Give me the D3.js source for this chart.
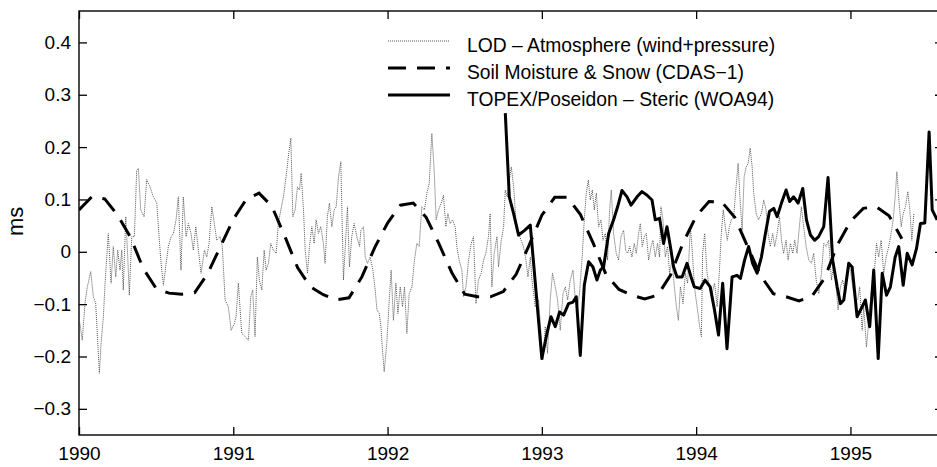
<!DOCTYPE html>
<html>
<head>
<meta charset="utf-8">
<script src="https://cdn.jsdelivr.net/npm/d3@7"></script>
<style>
  html, body { margin: 0; padding: 0; background: #fff; }
  svg { display: block; font-family: "Liberation Sans", Arial, Helvetica, sans-serif; }
</style>
</head>
<body>
<svg id="chart" width="937" height="467"></svg>
<script>
// ---------------------------------------------
// data (decimal year, ms)
// ---------------------------------------------
const yearTicks = [1990, 1991, 1992, 1993, 1994, 1995];
const msTicks = [-0.3, -0.2, -0.1, 0, 0.1, 0.2, 0.3, 0.4];

const legendLabels = [
  "LOD \u2013 Atmosphere (wind+pressure)",
  "Soil Moisture & Snow (CDAS\u22121)",
  "TOPEX/Poseidon \u2013 Steric (WOA94)"
];

// LOD minus atmosphere, roughly 5-10 day sampling
const lodSeries = [
  [1990.006,-0.137],[1990.021,-0.169],[1990.039,-0.098],[1990.054,-0.067],[1990.076,-0.038],[1990.093,-0.086],
  [1990.108,-0.098],[1990.132,-0.232],[1990.143,-0.175],[1990.158,-0.124],[1990.169,-0.060],[1990.190,0.035],
  [1990.208,-0.060],[1990.222,0.010],[1990.238,-0.048],[1990.251,0.003],[1990.266,-0.035],[1990.277,0.003],
  [1990.287,-0.073],[1990.303,0.067],[1990.316,-0.010],[1990.326,-0.083],[1990.342,0.029],[1990.359,0.029],
  [1990.374,0.156],[1990.385,0.159],[1990.400,0.080],[1990.422,0.067],[1990.439,0.138],[1990.460,0.124],
  [1990.482,0.105],[1990.504,0.093],[1990.519,0.029],[1990.532,-0.022],[1990.547,-0.064],[1990.562,-0.029],
  [1990.579,0.010],[1990.597,0.029],[1990.612,0.035],[1990.629,0.061],[1990.644,0.105],[1990.661,-0.035],
  [1990.676,0.105],[1990.694,0.029],[1990.709,0.054],[1990.726,0.035],[1990.741,0.003],[1990.757,0.048],
  [1990.774,0.003],[1990.791,-0.041],[1990.813,0.003],[1990.828,-0.010],[1990.843,0.016],[1990.861,0.086],
  [1990.877,0.054],[1990.893,0.022],[1990.914,0.029],[1990.929,0.010],[1990.947,-0.092],[1990.968,-0.105],
  [1990.986,-0.150],[1991.007,-0.137],[1991.018,-0.124],[1991.033,-0.060],[1991.055,-0.156],[1991.077,-0.162],
  [1991.098,-0.169],[1991.113,-0.086],[1991.126,-0.073],[1991.141,-0.162],[1991.156,-0.010],[1991.169,-0.054],
  [1991.185,-0.073],[1991.200,0.003],[1991.213,-0.035],[1991.228,-0.022],[1991.243,0.016],[1991.260,0.003],
  [1991.278,-0.003],[1991.292,0.054],[1991.308,0.080],[1991.325,0.105],[1991.342,0.143],[1991.357,0.182],
  [1991.373,0.217],[1991.386,0.067],[1991.401,0.080],[1991.416,0.124],[1991.429,0.118],[1991.440,0.150],
  [1991.455,0.080],[1991.466,0.003],[1991.481,-0.041],[1991.494,0.010],[1991.509,0.048],[1991.524,0.016],
  [1991.537,0.061],[1991.552,0.035],[1991.567,0.048],[1991.584,0.016],[1991.595,-0.022],[1991.610,0.067],
  [1991.623,0.093],[1991.639,0.048],[1991.654,0.080],[1991.667,0.086],[1991.682,0.143],[1991.697,0.172],
  [1991.714,-0.054],[1991.727,0.016],[1991.740,0.086],[1991.753,-0.029],[1991.768,0.029],[1991.783,0.054],
  [1991.801,0.029],[1991.818,0.010],[1991.827,0.041],[1991.844,0.048],[1991.855,-0.010],[1991.870,-0.022],
  [1991.887,-0.010],[1991.905,-0.035],[1991.920,-0.073],[1991.931,-0.111],[1991.946,-0.118],[1991.957,-0.143],
  [1991.967,-0.188],[1991.978,-0.229],[1991.995,-0.175],[1992.012,-0.086],[1992.023,-0.035],[1992.038,-0.131],
  [1992.054,-0.060],[1992.067,-0.118],[1992.082,-0.067],[1992.097,-0.105],[1992.110,-0.067],[1992.125,-0.156],
  [1992.140,-0.080],[1992.158,-0.067],[1992.174,-0.016],[1992.190,0.016],[1992.205,0.010],[1992.222,0.086],
  [1992.239,0.080],[1992.255,0.112],[1992.270,0.131],[1992.287,0.226],[1992.302,0.156],[1992.315,0.061],
  [1992.330,0.080],[1992.348,0.093],[1992.362,0.108],[1992.378,0.048],[1992.391,0.073],[1992.406,0.054],
  [1992.421,0.061],[1992.438,0.048],[1992.449,0.010],[1992.464,-0.016],[1992.482,-0.035],[1992.492,-0.086],
  [1992.508,-0.067],[1992.525,-0.016],[1992.542,0.016],[1992.557,0.029],[1992.573,-0.099],[1992.589,-0.054],
  [1992.607,-0.041],[1992.622,-0.016],[1992.637,-0.003],[1992.654,0.029],[1992.665,0.073],[1992.676,-0.067],
  [1992.691,-0.003],[1992.709,0.029],[1992.719,-0.029],[1992.737,0.022],[1992.752,0.048],[1992.763,0.118],
  [1992.776,0.105],[1992.789,0.137],[1992.802,0.162],[1992.817,0.124],[1992.832,0.061],[1992.849,0.035],
  [1992.866,0.022],[1992.881,0.010],[1992.897,-0.016],[1992.910,-0.048],[1992.925,-0.010],[1992.936,-0.054],
  [1992.957,-0.105],[1992.979,-0.092],[1993.007,-0.207],[1993.022,-0.143],[1993.037,-0.194],[1993.054,-0.092],
  [1993.069,-0.041],[1993.087,-0.067],[1993.102,-0.092],[1993.119,-0.150],[1993.137,-0.080],[1993.152,-0.067],
  [1993.167,-0.092],[1993.184,-0.054],[1993.202,-0.035],[1993.217,-0.092],[1993.231,-0.105],[1993.244,-0.080],
  [1993.260,-0.016],[1993.275,0.061],[1993.288,0.112],[1993.301,0.137],[1993.314,0.099],[1993.327,0.118],
  [1993.340,0.080],[1993.353,0.112],[1993.368,0.048],[1993.383,0.061],[1993.396,0.022],[1993.411,0.035],
  [1993.426,-0.016],[1993.439,0.080],[1993.450,0.118],[1993.465,0.035],[1993.482,-0.003],[1993.497,-0.016],
  [1993.513,0.029],[1993.530,0.041],[1993.543,0.003],[1993.556,-0.003],[1993.569,0.010],[1993.584,-0.010],
  [1993.599,0.016],[1993.612,-0.003],[1993.627,0.035],[1993.638,0.054],[1993.651,0.010],[1993.664,0.029],
  [1993.677,0.035],[1993.692,-0.016],[1993.708,0.010],[1993.720,0.022],[1993.735,-0.010],[1993.750,0.016],
  [1993.763,-0.010],[1993.772,0.086],[1993.785,0.061],[1993.800,-0.010],[1993.815,0.010],[1993.828,-0.041],
  [1993.844,-0.016],[1993.859,-0.067],[1993.872,-0.105],[1993.885,-0.131],[1993.898,-0.067],[1993.915,-0.099],
  [1993.930,-0.041],[1993.945,-0.060],[1993.963,0.048],[1993.976,-0.003],[1993.989,-0.067],[1994.006,-0.105],
  [1994.023,-0.143],[1994.034,-0.162],[1994.042,-0.003],[1994.055,0.035],[1994.071,-0.041],[1994.086,-0.067],
  [1994.103,-0.080],[1994.120,-0.060],[1994.136,-0.105],[1994.150,-0.041],[1994.163,0.035],[1994.176,0.080],
  [1994.189,0.048],[1994.202,0.022],[1994.215,0.048],[1994.228,0.061],[1994.243,0.067],[1994.259,0.124],
  [1994.272,0.169],[1994.285,0.099],[1994.298,0.041],[1994.311,0.143],[1994.324,0.162],[1994.337,0.169],
  [1994.350,0.198],[1994.363,0.162],[1994.373,0.112],[1994.389,0.073],[1994.405,0.061],[1994.423,0.073],
  [1994.438,0.099],[1994.453,0.080],[1994.466,0.035],[1994.481,0.010],[1994.496,0.035],[1994.509,0.010],
  [1994.525,0.035],[1994.540,0.067],[1994.553,0.022],[1994.567,-0.003],[1994.583,0.022],[1994.596,-0.016],
  [1994.611,0.016],[1994.626,-0.003],[1994.639,0.022],[1994.654,-0.003],[1994.669,0.048],[1994.682,0.086],
  [1994.697,0.048],[1994.713,0.010],[1994.730,-0.016],[1994.747,-0.022],[1994.762,-0.003],[1994.778,-0.054],
  [1994.795,-0.080],[1994.812,-0.041],[1994.827,0.016],[1994.842,0.010],[1994.859,0.022],[1994.877,-0.054],
  [1994.892,-0.022],[1994.907,-0.067],[1994.920,-0.111],[1994.935,-0.067],[1994.950,-0.054],[1994.968,-0.080],
  [1994.985,-0.022],[1995.000,-0.035],[1995.015,-0.067],[1995.028,-0.092],[1995.047,-0.092],[1995.060,-0.067],
  [1995.076,-0.150],[1995.086,-0.105],[1995.104,-0.182],[1995.119,-0.131],[1995.134,-0.080],[1995.151,-0.054],
  [1995.169,0.016],[1995.183,-0.010],[1995.199,0.022],[1995.216,-0.041],[1995.232,-0.010],[1995.248,0.010],
  [1995.264,0.035],[1995.277,0.061],[1995.290,0.105],[1995.301,0.153],[1995.314,0.099],[1995.329,0.048],
  [1995.342,0.073],[1995.357,0.086],[1995.372,0.115],[1995.385,0.080],[1995.398,0.022],[1995.411,0.073]
];

// soil moisture & snow, monthly from Jan 1990
const soilStart = 1990;
const soilMonthly = [
  0.080, 0.105, 0.101, 0.070, 0.028, -0.032, -0.070, -0.079, -0.081, -0.078, -0.042, 0.010,
  0.062, 0.100, 0.112, 0.087, 0.030, -0.030, -0.067, -0.082, -0.092, -0.088, -0.048, 0.008,
  0.055, 0.089, 0.093, 0.066, 0.015, -0.040, -0.081, -0.086, -0.086, -0.076, -0.043, 0.012,
  0.070, 0.104, 0.104, 0.071, 0.016, -0.044, -0.072, -0.083, -0.090, -0.083, -0.045, 0.018,
  0.068, 0.096, 0.095, 0.066, 0.010, -0.045, -0.080, -0.086, -0.094, -0.085, -0.050, 0.014,
  0.058, 0.083, 0.086, 0.069, 0.025
];

// TOPEX/Poseidon minus steric, ~10 day cycles
const topexSeries = [
  [1992.763,0.265],[1992.789,0.105],[1992.817,0.073],[1992.849,0.032],[1992.888,0.041],[1992.925,0.051],
  [1993.000,-0.204],[1993.033,-0.156],[1993.059,-0.124],[1993.087,-0.143],[1993.115,-0.115],[1993.141,-0.121],
  [1993.173,-0.099],[1993.202,-0.096],[1993.223,-0.086],[1993.249,-0.198],[1993.275,-0.064],[1993.303,-0.019],
  [1993.331,-0.029],[1993.357,-0.054],[1993.379,-0.035],[1993.400,-0.029],[1993.433,0.035],[1993.465,0.061],
  [1993.491,0.086],[1993.519,0.117],[1993.552,0.105],[1993.578,0.089],[1993.617,0.105],[1993.649,0.115],
  [1993.682,0.108],[1993.714,0.099],[1993.735,0.061],[1993.763,0.064],[1993.789,0.016],[1993.811,0.048],
  [1993.833,0.010],[1993.854,-0.029],[1993.876,-0.048],[1993.909,-0.048],[1993.941,-0.022],[1993.967,-0.048],
  [1993.988,-0.067],[1994.026,-0.070],[1994.058,-0.054],[1994.091,-0.067],[1994.119,-0.111],[1994.145,-0.159],
  [1994.172,-0.060],[1994.200,-0.185],[1994.233,-0.048],[1994.265,-0.045],[1994.287,-0.051],[1994.314,-0.016],
  [1994.340,0.010],[1994.366,-0.022],[1994.395,-0.041],[1994.423,-0.010],[1994.449,0.035],[1994.475,0.077],
  [1994.503,0.083],[1994.525,0.067],[1994.553,0.093],[1994.583,0.118],[1994.606,0.096],[1994.632,0.105],
  [1994.661,0.093],[1994.691,0.121],[1994.715,0.061],[1994.741,0.032],[1994.768,0.022],[1994.794,0.029],
  [1994.827,0.048],[1994.855,0.142],[1994.885,-0.016],[1994.914,-0.067],[1994.935,-0.099],[1994.957,-0.092],
  [1994.989,-0.022],[1995.011,-0.029],[1995.043,-0.124],[1995.076,-0.105],[1995.097,-0.092],[1995.125,-0.143],
  [1995.151,-0.035],[1995.180,-0.204],[1995.206,-0.041],[1995.234,-0.083],[1995.259,-0.067],[1995.290,-0.010],
  [1995.313,0.010],[1995.342,-0.064],[1995.368,-0.003],[1995.400,-0.025],[1995.428,0.006],[1995.454,0.054],
  [1995.482,0.055],[1995.510,0.229],[1995.530,0.080],[1995.562,0.061]
];

// ---------------------------------------------
// layout
// ---------------------------------------------
const svg = d3.select("#chart");
const plot = { left: 79, right: 943, top: 11, bottom: 435 };

const x = d3.scaleLinear().domain([1990, 1995.6]).range([plot.left, plot.right]);
const y = d3.scaleLinear().domain([-0.35, 0.46]).range([plot.bottom, plot.top]);

svg.append("defs").append("clipPath").attr("id", "plotClip")
  .append("rect")
    .attr("x", plot.left).attr("y", plot.top)
    .attr("width", plot.right - plot.left).attr("height", plot.bottom - plot.top);

const line = d3.line().x(d => x(d[0])).y(d => y(d[1]));
const soilSeries = soilMonthly.map((v, i) => [soilStart + i / 12, v]);

const series = svg.append("g").attr("clip-path", "url(#plotClip)");

series.append("path")
  .datum(lodSeries)
  .attr("d", line)
  .attr("fill", "none")
  .attr("stroke", "#444")
  .attr("stroke-width", 0.9)
  .attr("stroke-dasharray", "1,1");

series.append("path")
  .datum(soilSeries)
  .attr("d", line)
  .attr("fill", "none")
  .attr("stroke", "#000")
  .attr("stroke-width", 3)
  .attr("stroke-dasharray", "18,11");

series.append("path")
  .datum(topexSeries)
  .attr("d", line)
  .attr("fill", "none")
  .attr("stroke", "#000")
  .attr("stroke-width", 3)
  .attr("stroke-linejoin", "round");

// ---------------------------------------------
// axes (inward ticks on all four sides)
// ---------------------------------------------
const fmt = d => d === 0 ? "0" : d3.format(".1f")(d);

svg.append("g")
  .attr("transform", `translate(0,${plot.bottom})`)
  .call(d3.axisBottom(x).tickValues(yearTicks).tickFormat(d3.format("d"))
    .tickSizeInner(-8).tickSizeOuter(0).tickPadding(11.5));

svg.append("g")
  .attr("transform", `translate(${plot.left},0)`)
  .call(d3.axisLeft(y).tickValues(msTicks).tickFormat(fmt)
    .tickSizeInner(-8).tickSizeOuter(0).tickPadding(8));

svg.append("g")
  .attr("transform", `translate(0,${plot.top})`)
  .call(d3.axisTop(x).tickValues(yearTicks).tickFormat("")
    .tickSizeInner(-8).tickSizeOuter(0));

svg.append("g")
  .attr("transform", `translate(${plot.right},0)`)
  .call(d3.axisRight(y).tickValues(msTicks).tickFormat("")
    .tickSizeInner(-8).tickSizeOuter(0));

svg.selectAll(".domain").remove();
svg.selectAll(".tick line").attr("stroke", "#000").attr("stroke-width", 1.3);
svg.selectAll(".tick text")
  .attr("fill", "#000")
  .style("font-size", "19px")
  .style("font-family", "'Liberation Sans', Arial, Helvetica, sans-serif");

svg.append("rect")
  .attr("x", plot.left).attr("y", plot.top)
  .attr("width", plot.right - plot.left).attr("height", plot.bottom - plot.top)
  .attr("fill", "none").attr("stroke", "#000").attr("stroke-width", 1.4);

svg.append("text")
  .attr("transform", `translate(23,${y(0.058)}) rotate(-90)`)
  .attr("text-anchor", "middle")
  .style("font-size", "22px")
  .text("ms");

// ---------------------------------------------
// legend
// ---------------------------------------------
const legendStyles = [
  { stroke: "#444", width: 0.9, dash: "1,1" },
  { stroke: "#000", width: 3, dash: "18,11" },
  { stroke: "#000", width: 3, dash: null }
];
const legend = svg.append("g");
const rowY = [41, 68, 95];

legendLabels.forEach((label, i) => {
  legend.append("line")
    .attr("x1", 388).attr("x2", 450)
    .attr("y1", rowY[i]).attr("y2", rowY[i])
    .attr("stroke", legendStyles[i].stroke)
    .attr("stroke-width", legendStyles[i].width)
    .attr("stroke-dasharray", legendStyles[i].dash);
  legend.append("text")
    .attr("x", 467).attr("y", rowY[i] + 4)
    .attr("dy", "0.35em")
    .style("font-size", "19.3px")
    .text(label);
});
</script>
</body>
</html>
